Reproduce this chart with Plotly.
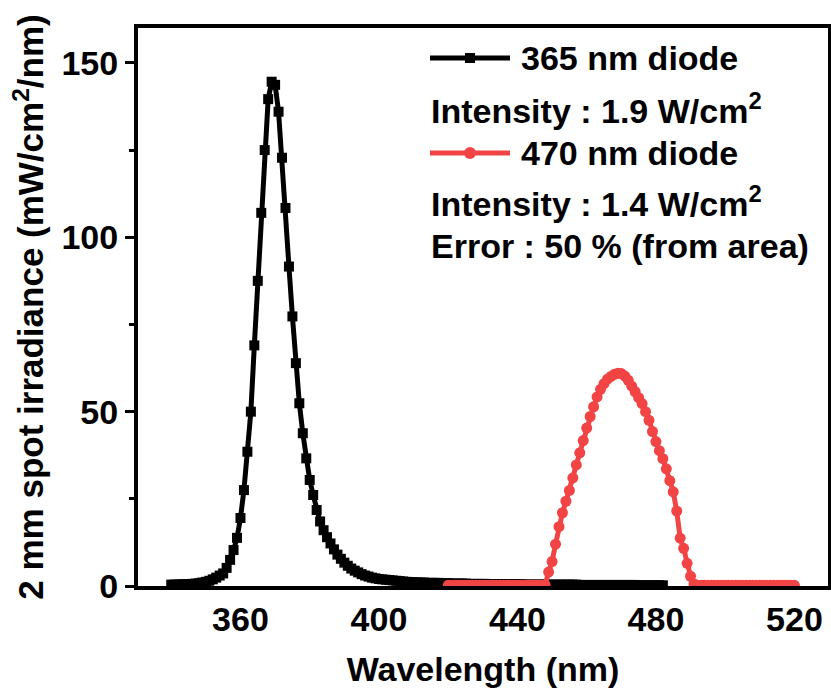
import plotly.graph_objects as go

# 365 nm diode spectrum (1 nm steps)
uv_wavelength = list(range(340, 483))
uv_irradiance = [
    0.4, 0.4, 0.4, 0.5, 0.5, 0.5, 0.6, 0.7, 0.8, 1.0,          # 340-349
    1.2, 1.5, 1.9, 2.4, 3.0, 3.6, 5.2, 7.5, 10.3, 13.8,        # 350-359
    19.5, 27.5, 38.5, 50.0, 69.0, 87.5, 107.0, 125.0, 139.6, 144.6,  # 360-369
    143.7, 136.0, 122.8, 108.4, 91.6, 77.3, 63.9, 52.4, 43.8, 36.6,  # 370-379
    30.4, 26.1, 21.8, 18.5, 16.0, 14.0, 12.2, 10.5, 9.0, 7.8,  # 380-389
    6.7, 5.8, 5.0, 4.4, 3.9, 3.4, 3.0, 2.7, 2.4, 2.2,          # 390-399
    2.0, 1.9, 1.8, 1.7, 1.6, 1.5, 1.4, 1.3, 1.2, 1.1,          # 400-409
    1.1, 1.0, 1.0, 1.0, 0.9, 0.9, 0.9, 0.9, 0.8, 0.8,          # 410-419
    0.8, 0.7, 0.7, 0.7, 0.7, 0.7, 0.6, 0.6, 0.6, 0.6,          # 420-429
    0.6, 0.6, 0.5, 0.5, 0.5, 0.5, 0.5, 0.5, 0.5, 0.5,          # 430-439
    0.5, 0.5, 0.4, 0.4, 0.4, 0.4, 0.4, 0.4, 0.4, 0.4,          # 440-449
    0.4, 0.4, 0.4, 0.4, 0.4, 0.4, 0.4, 0.4, 0.3, 0.3,          # 450-459
    0.3, 0.3, 0.3, 0.3, 0.3, 0.3, 0.3, 0.3, 0.3, 0.3,          # 460-469
    0.3, 0.3, 0.3, 0.3, 0.3, 0.2, 0.2, 0.2, 0.2, 0.2,          # 470-479
    0.2, 0.2, 0.2,                                             # 480-482
]

# 470 nm diode spectrum (1 nm steps)
blue_wavelength = list(range(420, 521))
blue_irradiance = [
    0.2, 0.2, 0.2, 0.2, 0.2, 0.2, 0.2, 0.2, 0.2, 0.2,          # 420-429
    0.2, 0.2, 0.2, 0.2, 0.2, 0.2, 0.2, 0.2, 0.2, 0.2,          # 430-439
    0.2, 0.2, 0.2, 0.2, 0.2, 0.2, 0.2, 0.2, 0.3, 4.0,          # 440-449
    7.0, 12.0, 17.0, 21.0, 24.3, 27.4, 31.0, 34.7, 38.2, 41.7, # 450-459
    45.3, 48.6, 51.4, 54.2, 56.4, 58.0, 59.3, 60.1, 60.7, 61.0,  # 460-469
    60.9, 60.2, 59.0, 57.3, 55.7, 54.0, 52.3, 50.0, 47.5, 44.3,  # 470-479
    41.4, 38.8, 36.5, 33.6, 30.2, 27.0, 21.5, 13.7, 10.8, 6.5,   # 480-489
    2.8, 0.6, 0.2, 0.2, 0.2, 0.2, 0.2, 0.2, 0.2, 0.2,          # 490-499
    0.2, 0.2, 0.2, 0.2, 0.2, 0.2, 0.2, 0.2, 0.2, 0.2,          # 500-509
    0.2, 0.2, 0.2, 0.2, 0.2, 0.2, 0.2, 0.2, 0.2, 0.2,          # 510-519
    0.2,                                                       # 520
]

x_ticks = [360, 400, 440, 480, 520]
y_ticks = [0, 50, 100, 150]

legend_lines = [
    ("365 nm diode", "black", "square"),
    ("470 nm diode", "#F24444", "circle"),
]
info_lines = [
    "Intensity : 1.9 W/cm<sup>2</sup>",
    "Intensity : 1.4 W/cm<sup>2</sup>",
    "Error : 50 % (from area)",
]

RED = "#F24444"
FONT = "Liberation Sans, Arial, sans-serif"

fig = go.Figure()
fig.add_trace(go.Scatter(
    x=uv_wavelength, y=uv_irradiance, mode="lines+markers",
    line=dict(color="black", width=5),
    marker=dict(symbol="square", size=10, color="black"),
    name="365 nm diode", showlegend=False,
))
fig.add_trace(go.Scatter(
    x=blue_wavelength, y=blue_irradiance, mode="lines+markers",
    line=dict(color=RED, width=5),
    marker=dict(symbol="circle", size=11, color=RED),
    name="470 nm diode", showlegend=False,
))

# Hand-built legend block in the upper right
W, H = 831, 688
ml, mr, mt, mb = 138, 3, 28, 102
pw, ph = W - ml - mr, H - mt - mb


def px_x(v):
    return (v - ml) / pw


def px_y(v):
    return 1 - (v - mt) / ph


shapes = []
annotations = []
rows = [
    ("legend", 0, 58),
    ("info", 0, 108),
    ("legend", 1, 153),
    ("info", 1, 202),
    ("info", 2, 246),
]
for kind, idx, ypix in rows:
    if kind == "legend":
        label, color, sym = legend_lines[idx]
        shapes.append(dict(type="line", xref="paper", yref="paper",
                           x0=px_x(430), x1=px_x(510), y0=px_y(ypix), y1=px_y(ypix),
                           line=dict(color=color, width=5)))
        if sym == "square":
            shapes.append(dict(type="rect", xref="paper", yref="paper",
                               x0=px_x(465), x1=px_x(475), y0=px_y(ypix + 5), y1=px_y(ypix - 5),
                               fillcolor=color, line=dict(width=0)))
        else:
            shapes.append(dict(type="circle", xref="paper", yref="paper",
                               x0=px_x(464), x1=px_x(476), y0=px_y(ypix + 6), y1=px_y(ypix - 6),
                               fillcolor=color, line=dict(width=0)))
        annotations.append(dict(text=f"<b>{label}</b>", xref="paper", yref="paper",
                                x=px_x(519), y=px_y(ypix), xanchor="left", yanchor="middle",
                                showarrow=False, font=dict(size=34, color="black", family=FONT)))
    else:
        annotations.append(dict(text=f"<b>{info_lines[idx]}</b>", xref="paper", yref="paper",
                                x=px_x(429), y=px_y(ypix), xanchor="left", yanchor="middle",
                                showarrow=False, font=dict(size=34, color="black", family=FONT)))

fig.update_layout(
    width=W, height=H,
    margin=dict(l=ml, r=mr, t=mt, b=mb),
    paper_bgcolor="white", plot_bgcolor="white",
    font=dict(family=FONT, color="black", size=34),
    shapes=shapes, annotations=annotations,
    xaxis=dict(
        range=[330.4, 529.7], tickvals=x_ticks, ticktext=[f"<b>{t}</b>" for t in x_ticks],
        showline=True, linewidth=4, linecolor="black", mirror=True,
        ticks="", showgrid=False, zeroline=False,
        tickfont=dict(size=34, family=FONT, color="black"),
        title=dict(text="<b>Wavelength (nm)</b>", font=dict(size=34, family=FONT), standoff=22),
        automargin=False,
    ),
    yaxis=dict(
        range=[0, 160], tickvals=y_ticks, ticktext=[f"<b>{t}</b>" for t in y_ticks],
        showline=True, linewidth=4, linecolor="black", mirror=True,
        ticks="outside", ticklen=9, tickwidth=3, tickcolor="black",
        minor=dict(tickvals=[25, 75, 125], ticks="outside", ticklen=5, tickwidth=3, tickcolor="black"),
        showgrid=False, zeroline=False,
        tickfont=dict(size=34, family=FONT, color="black"),
        title=dict(text="<b>2 mm spot irradiance (mW/cm<sup>2</sup>/nm)</b>",
                   font=dict(size=35, family=FONT), standoff=8),
        automargin=False,
    ),
)

fig.write_html("out.html")
